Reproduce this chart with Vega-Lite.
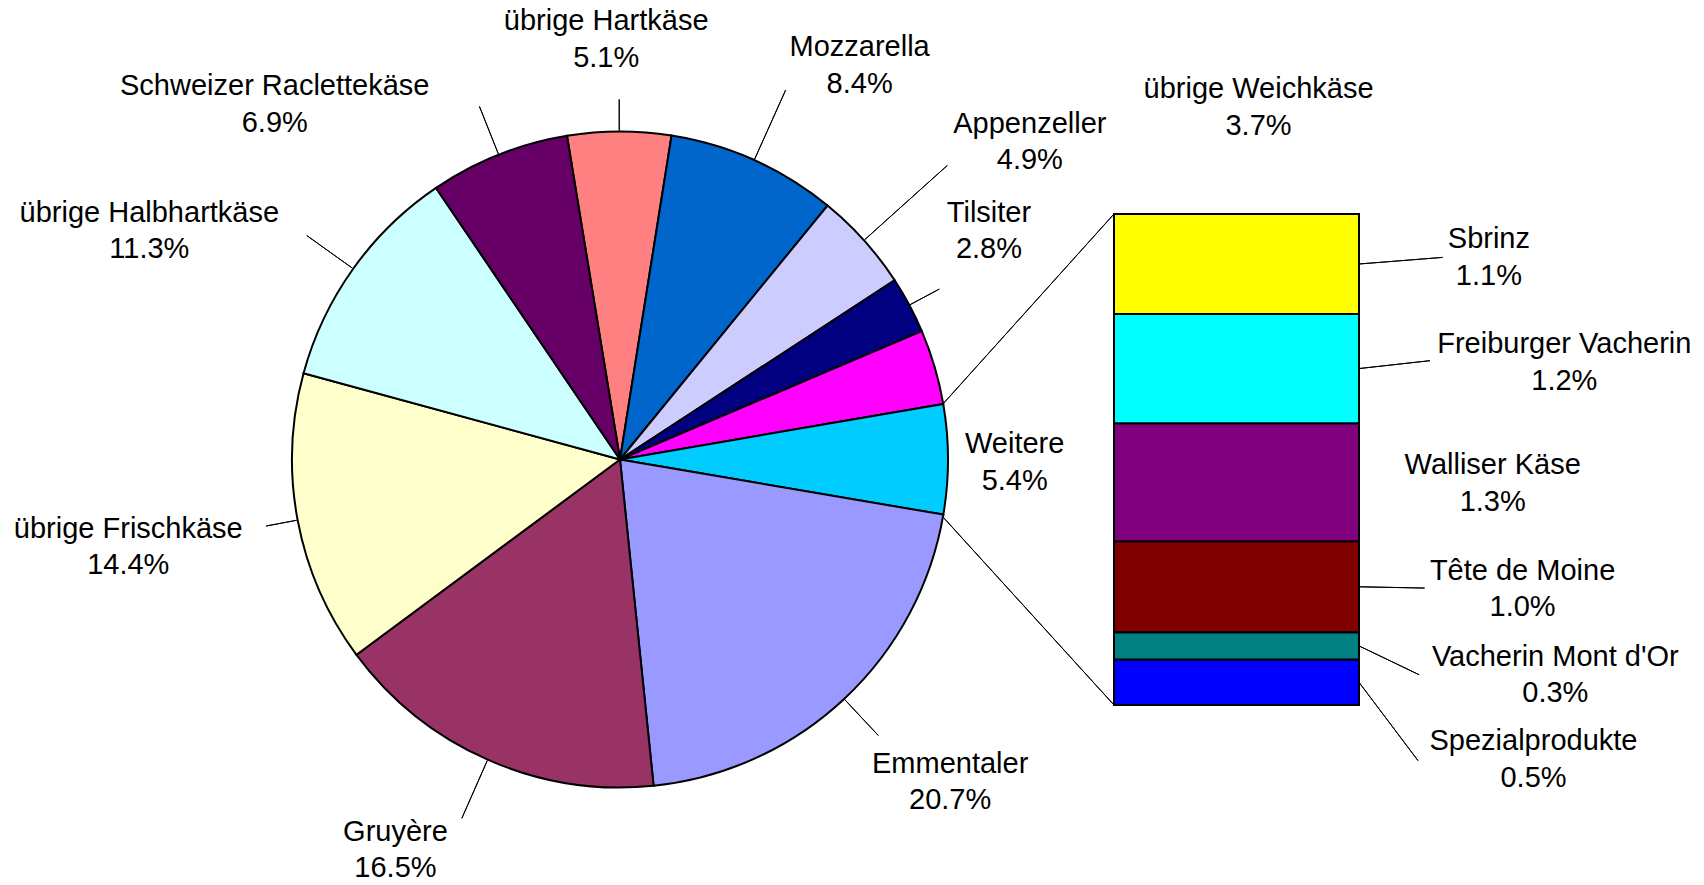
{
  "$schema": "https://vega.github.io/schema/vega-lite/v6.json",
  "width": 1704,
  "height": 491,
  "autosize": {"type": "none"},
  "padding": {"left": 0, "right": 0, "top": 214, "bottom": 180},
  "background": "white",
  "config": {"view": {"stroke": null}},
  "datasets": {
    "pie": [
      {"panel": "Pie", "idx": 1, "name": "übrige Hartkäse", "pct": 5.1},
      {"panel": "Pie", "idx": 2, "name": "Mozzarella", "pct": 8.4},
      {"panel": "Pie", "idx": 3, "name": "Appenzeller", "pct": 4.9},
      {"panel": "Pie", "idx": 4, "name": "Tilsiter", "pct": 2.8},
      {"panel": "Pie", "idx": 5, "name": "übrige Weichkäse", "pct": 3.7},
      {"panel": "Pie", "idx": 6, "name": "Weitere", "pct": 5.4},
      {"panel": "Pie", "idx": 7, "name": "Emmentaler", "pct": 20.7},
      {"panel": "Pie", "idx": 8, "name": "Gruyère", "pct": 16.5},
      {"panel": "Pie", "idx": 9, "name": "übrige Frischkäse", "pct": 14.4},
      {"panel": "Pie", "idx": 10, "name": "übrige Halbhartkäse", "pct": 11.3},
      {"panel": "Pie", "idx": 11, "name": "Schweizer Raclettekäse", "pct": 6.9}
    ],
    "bar": [
      {"panel": "Bar", "idx": 1, "name": "Spezialprodukte", "pct": 0.5},
      {"panel": "Bar", "idx": 2, "name": "Vacherin Mont d'Or", "pct": 0.3},
      {"panel": "Bar", "idx": 3, "name": "Tête de Moine", "pct": 1.0},
      {"panel": "Bar", "idx": 4, "name": "Walliser Käse", "pct": 1.3},
      {"panel": "Bar", "idx": 5, "name": "Freiburger Vacherin", "pct": 1.2},
      {"panel": "Bar", "idx": 6, "name": "Sbrinz", "pct": 1.1}
    ]
  },
  "layer": [
    {
      "data": {"name": "bar"},
      "mark": {"type": "bar", "stroke": "#000000", "strokeWidth": 2},
      "encoding": {
        "x": {"field": "panel", "type": "nominal", "axis": null,
              "scale": {"type": "band", "domain": ["Pie", "Bar"], "paddingInner": 0.6026, "paddingOuter": 0.6833, "align": 0.5905}},
        "y": {"field": "pct", "type": "quantitative", "stack": "zero", "axis": null, "scale": {"nice": false, "zero": true}},
        "color": {"field": "name", "type": "nominal", "legend": null,
          "scale": {
            "domain": ["übrige Hartkäse", "Mozzarella", "Appenzeller", "Tilsiter", "übrige Weichkäse", "Weitere", "Emmentaler", "Gruyère", "übrige Frischkäse", "übrige Halbhartkäse", "Schweizer Raclettekäse", "Spezialprodukte", "Vacherin Mont d'Or", "Tête de Moine", "Walliser Käse", "Freiburger Vacherin", "Sbrinz"],
            "range": ["#FF8080", "#0066CC", "#CCCCFF", "#000080", "#FF00FF", "#00CCFF", "#9999FF", "#993366", "#FFFFCC", "#CCFFFF", "#660066", "#0000FF", "#008080", "#800000", "#800080", "#00FFFF", "#FFFF00"]
          }},
        "order": {"field": "idx", "type": "quantitative"}
      }
    },
    {
      "data": {"name": "pie"},
      "mark": {"type": "arc", "outerRadius": 328, "stroke": "#000000", "strokeWidth": 2},
      "encoding": {
        "x": {"field": "panel", "type": "nominal", "bandPosition": 0.5, "scale": {"type": "band"}},
        "theta": {"field": "pct", "type": "quantitative", "stack": true, "scale": {"range": [-0.1623, 6.1209], "nice": false, "zero": true}},
        "color": {"field": "name", "type": "nominal", "legend": null},
        "order": {"field": "idx", "type": "quantitative"}
      }
    },
    {
      "data": {"name": "pie"},
      "mark": {"type": "arc", "filled": false, "stroke": "#000000", "strokeWidth": 1, "padAngle": 3,
               "innerRadius": 329,
               "outerRadius": {"expr": "[360, 405, 440, 362, 329, 329, 378, 392, 360, 385, 380][datum.idx - 1]"}},
      "encoding": {
        "x": {"field": "panel", "type": "nominal", "bandPosition": 0.5, "scale": {"type": "band"}},
        "theta": {"field": "pct", "type": "quantitative", "stack": true},
        "detail": {"field": "name", "type": "nominal"},
        "order": {"field": "idx", "type": "quantitative"}
      }
    },
    {
      "data": {"name": "pie"},
      "mark": {"type": "text", "radius": 400, "font": "Liberation Sans", "fontSize": 29, "align": "center", "baseline": "alphabetic", "lineHeight": 36.7, "color": "#000000",
               "dx": {"expr": "[-12.9, 76, 112.3, 16.1, 254.8, -5.3, 56.8, -63.2, -98.6, -145.3, -197.3][datum.idx - 1]"},
               "dy": {"expr": "[-29.5, -38.5, -59.4, -49.4, -248.3, -5.9, 21.2, 15.2, 4.3, -5.2, 7.1][datum.idx - 1]"},
               "text": {"expr": "[datum.name, format(datum.pct, '.1f') + '%']"}},
      "encoding": {
        "x": {"field": "panel", "type": "nominal", "bandPosition": 0.5, "scale": {"type": "band"}},
        "theta": {"field": "pct", "type": "quantitative", "stack": true},
        "detail": {"field": "name", "type": "nominal"},
        "order": {"field": "idx", "type": "quantitative"}
      }
    },
    {
      "data": {"name": "bar"},
      "mark": {"type": "arc", "filled": false, "stroke": "#000000", "strokeWidth": 1, "innerRadius": 0,
               "theta": {"expr": "datum.idx == 6 ? 3.8746 : 0"},
               "theta2": {"expr": "datum.idx == 6 ? 3.8746 : 0"},
               "outerRadius": {"expr": "datum.idx == 6 ? 254.4 : 0"}},
      "encoding": {
        "x": {"field": "panel", "type": "nominal", "bandPosition": 0, "scale": {"type": "band"}},
        "y": {"field": "pct", "type": "quantitative", "stack": "zero"},
        "detail": {"field": "name", "type": "nominal"},
        "order": {"field": "idx", "type": "quantitative"}
      }
    },
    {
      "data": {"name": "bar"},
      "mark": {"type": "arc", "filled": false, "stroke": "#000000", "strokeWidth": 1, "innerRadius": 0,
               "theta": {"expr": "datum.idx == 1 ? 5.545 : 0"},
               "theta2": {"expr": "datum.idx == 1 ? 5.545 : 0"},
               "outerRadius": {"expr": "datum.idx == 1 ? 252.9 : 0"}},
      "encoding": {
        "x": {"field": "panel", "type": "nominal", "bandPosition": 0, "scale": {"type": "band"}},
        "y": {"field": "pct", "type": "quantitative", "stack": "zero", "bandPosition": 0},
        "detail": {"field": "name", "type": "nominal"},
        "order": {"field": "idx", "type": "quantitative"}
      }
    },
    {
      "data": {"name": "bar"},
      "mark": {"type": "arc", "filled": false, "stroke": "#000000", "strokeWidth": 1, "innerRadius": 0,
               "theta": {"expr": "[2.496, 2.018, 1.590, 0, 1.460, 1.492][datum.idx - 1]"},
               "theta2": {"expr": "[2.496, 2.018, 1.590, 0, 1.460, 1.492][datum.idx - 1]"},
               "outerRadius": {"expr": "[98.1, 66.7, 65.6, 0, 71.4, 83.9][datum.idx - 1]"}},
      "encoding": {
        "x": {"field": "panel", "type": "nominal", "bandPosition": 1, "scale": {"type": "band"}},
        "y": {"field": "pct", "type": "quantitative", "stack": "zero", "bandPosition": 0.5},
        "detail": {"field": "name", "type": "nominal"},
        "order": {"field": "idx", "type": "quantitative"}
      }
    },
    {
      "data": {"name": "bar"},
      "mark": {"type": "text", "font": "Liberation Sans", "fontSize": 29, "align": "center", "baseline": "alphabetic", "lineHeight": 36.7, "color": "#000000",
               "dx": {"expr": "[174.5, 196.3, 163.6, 133.7, 205.3, 129.9][datum.idx - 1]"},
               "dy": {"expr": "[67.9, 19.8, -7, -8.2, -15.6, -16][datum.idx - 1]"},
               "text": {"expr": "[datum.name, format(datum.pct, '.1f') + '%']"}},
      "encoding": {
        "x": {"field": "panel", "type": "nominal", "bandPosition": 1, "scale": {"type": "band"}},
        "y": {"field": "pct", "type": "quantitative", "stack": "zero", "bandPosition": 0.5},
        "detail": {"field": "name", "type": "nominal"},
        "order": {"field": "idx", "type": "quantitative"}
      }
    }
  ]
}
